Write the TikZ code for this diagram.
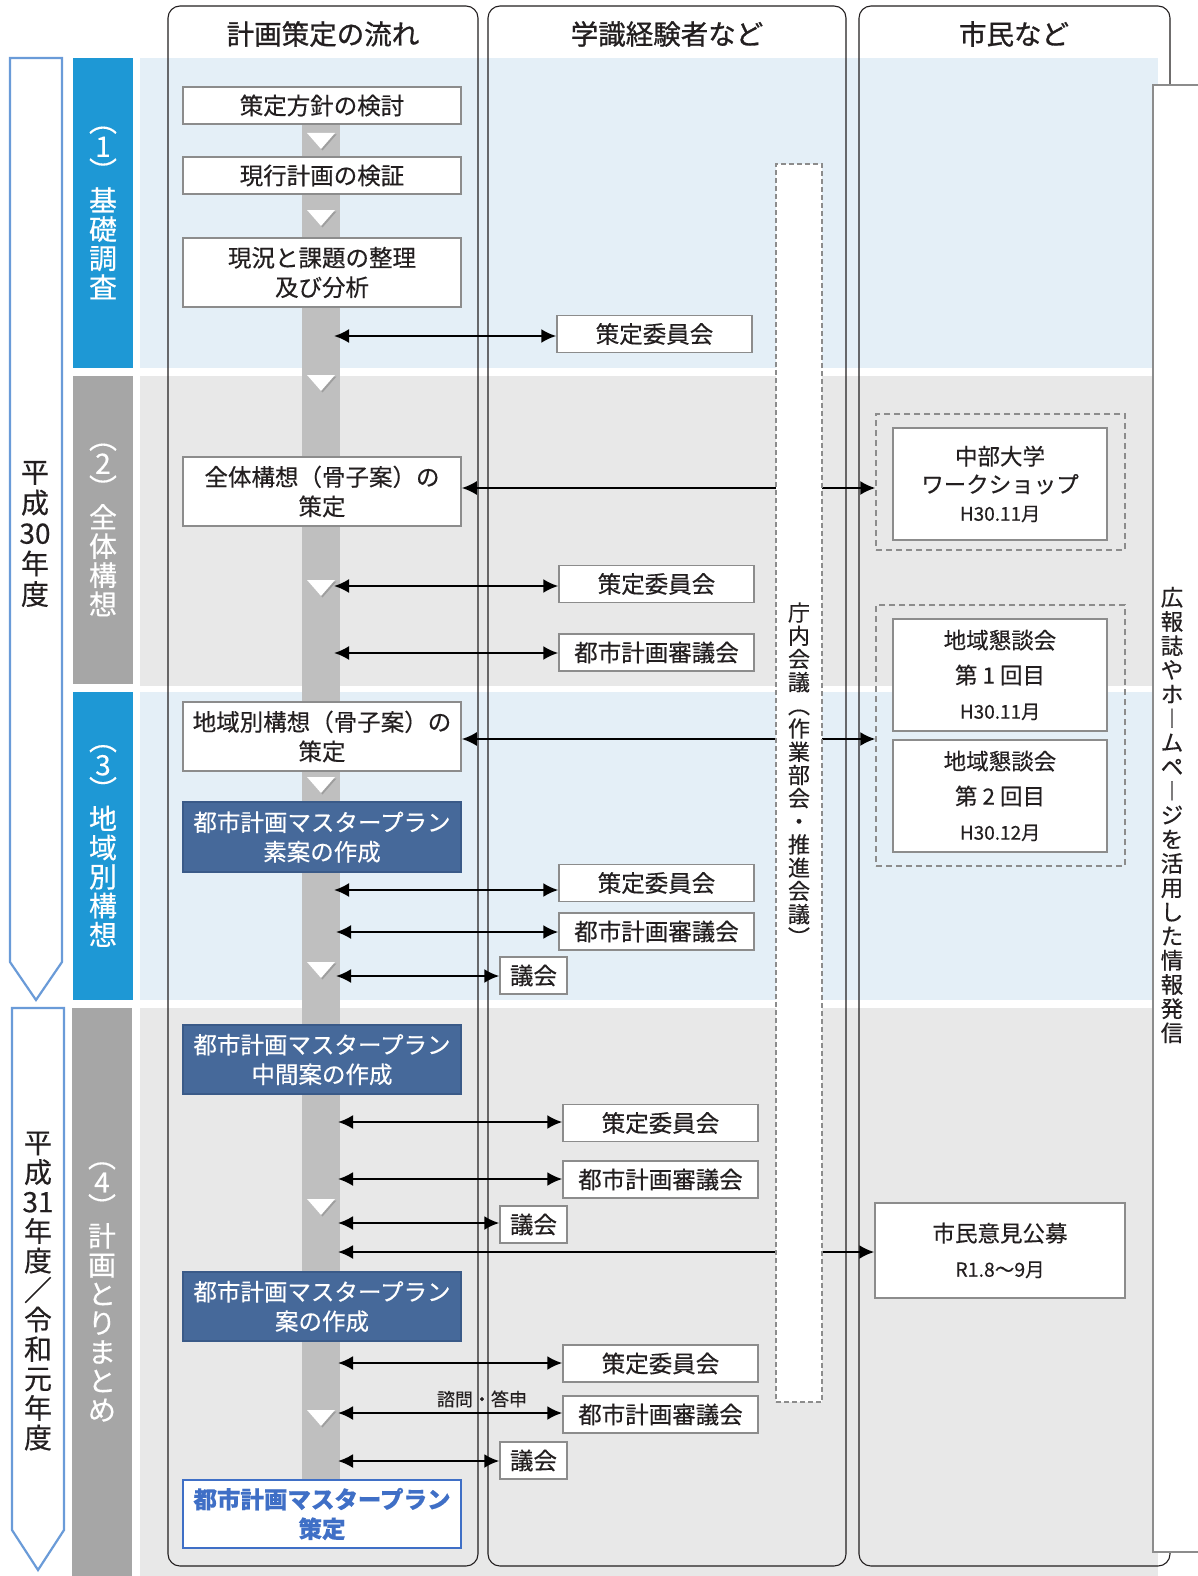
\documentclass[tikz,border=0pt]{standalone}
\usepackage{fontspec}
\setmainfont{Noto Sans CJK JP}[FakeBold=0.35]
\newfontfamily\hdfont{Noto Sans CJK JP}[FakeBold=1]
\usetikzlibrary{arrows.meta}
\definecolor{bandblue}{HTML}{E4EFF7}
\definecolor{bandgray}{HTML}{E8E8E8}
\definecolor{barblue}{HTML}{1E98D5}
\definecolor{bargray}{HTML}{A6A6A6}
\definecolor{flowgray}{HTML}{BFBFBF}
\definecolor{boxborder}{HTML}{8C8C8C}
\definecolor{darkbox}{HTML}{46699A}
\definecolor{darkboxb}{HTML}{3A5A88}
\definecolor{yearblue}{HTML}{6A9BD8}
\definecolor{finalblue}{HTML}{3F6FC6}
\definecolor{textc}{HTML}{231F20}
\newcommand\dtri[2]{%
  \fill[black!38] (#1-14+1.5,#2+1.5) -- (#1+14+1.5,#2+1.5) -- (#1+1.5,#2+16+1.5) -- cycle;
  \fill[white] (#1-14,#2) -- (#1+14,#2) -- (#1,#2+16) -- cycle;}
\begin{document}
\begin{tikzpicture}[x=1pt,y=-1pt,
  flowbox/.style={draw=boxborder,line width=1.5pt,fill=white,minimum width=278,minimum height=37,inner sep=0pt,align=center,text=textc,font=\fontsize{23.5}{29.5}\selectfont},
  darkflow/.style={flowbox,fill=darkbox,draw=darkboxb,text=white},
  finalbox/.style={flowbox,draw=finalblue,text=finalblue,font=\bfseries\fontsize{23.5}{29.5}\selectfont},
  sidebox/.style={draw=boxborder,line width=1.5pt,fill=white,minimum width=195,minimum height=37,inner sep=0pt,align=center,text=textc,font=\fontsize{23.5}{29}\selectfont},
  gikaibox/.style={sidebox,minimum width=67},
  citbox/.style={sidebox,minimum width=214,minimum height=112,font=\fontsize{22.5}{28}\selectfont},
  dgroup/.style={draw=boxborder,dash pattern=on 6pt off 4pt,line width=1.4pt,minimum width=249,inner sep=0pt},
  phasebar/.style={minimum width=60,inner sep=0pt,text=white,align=center,font=\fontsize{28}{29}\selectfont},
  yeartext/.style={inner sep=0pt,align=center,text=textc,font=\fontsize{28}{30.5}\selectfont},
  header/.style={inner sep=0pt,text=textc,font=\hdfont\fontsize{27.5}{30}\selectfont},
  biarrow/.style={line width=2.2pt,{Latex[length=15pt,width=14pt]}-{Latex[length=15pt,width=14pt]}},
  colline/.style={line width=1.1pt,draw=textc,rounded corners=12pt}
]
\useasboundingbox (0,0) rectangle (1198,1576);
\fill[white] (0,0) rectangle (1198,1576);
% bands
\fill[bandblue] (140,58) rectangle (1158,368);
\fill[bandgray] (140,376) rectangle (1158,686);
\fill[bandblue] (140,692) rectangle (1158,1000);
\fill[bandgray] (140,1008) rectangle (1158,1576);
% columns
\draw[colline] (168,6) rectangle (478,1566);
\draw[colline] (488,6) rectangle (846,1566);
\draw[colline] (859,6) rectangle (1170,1566);
\node[header] (h1) at (323,34) {計画策定の流れ};
\node[header] (h2) at (667,34) {学識経験者など};
\node[header] (h3) at (1014,34) {市民など};
% phase bars
\node[phasebar,fill=barblue,minimum height=310] (p1) at (103,213) {︵\\[-4pt]1\\[-4pt]︶\\基\\礎\\調\\査};
\node[phasebar,fill=bargray,minimum height=308] (p2) at (103,530) {︵\\[-4pt]2\\[-4pt]︶\\全\\体\\構\\想};
\node[phasebar,fill=barblue,minimum height=308] (p3) at (103,846) {︵\\[-4pt]3\\[-4pt]︶\\地\\域\\別\\構\\想};
\node[phasebar,fill=bargray,minimum height=568] (p4) at (102,1292) {︵\\[-4pt]4\\[-4pt]︶\\計\\画\\と\\り\\ま\\と\\め};
% year arrows
\draw[yearblue,line width=2.2pt,fill=white] (10,58) -- (62,58) -- (62,962) -- (36,1000) -- (10,962) -- cycle;
\draw[yearblue,line width=2.2pt,fill=white] (12,1008) -- (64,1008) -- (64,1530) -- (38,1570) -- (12,1530) -- cycle;
\node[yeartext] (y1) at (35,534) {平\\成\\30\\年\\度};
\node[yeartext,font=\fontsize{28}{29.5}\selectfont] (y2) at (38,1291) {平\\成\\31\\年\\度\\／\\令\\和\\元\\年\\度};
% flow bar
\fill[flowgray] (302,105) rectangle (340,1480);
% flow boxes
\node[flowbox] (f1) at (322,105.5) {策定方針の検討};
\node[flowbox] (f2) at (322,175.5) {現行計画の検証};
\node[flowbox,minimum height=69] (f3) at (322,272.5) {現況と課題の整理\\及び分析};
\node[flowbox,minimum height=69] (f4) at (322,491.5) {全体構想（骨子案）の\\策定};
\node[flowbox,minimum height=69] (f5) at (322,736.5) {地域別構想（骨子案）の\\策定};
\node[darkflow,minimum height=70] (f6) at (322,837) {都市計画マスタープラン\\素案の作成};
\node[darkflow,minimum height=69] (f7) at (322,1059.5) {都市計画マスタープラン\\中間案の作成};
\node[darkflow,minimum height=69] (f8) at (322,1306.5) {都市計画マスタープラン\\案の作成};
\node[finalbox,minimum height=68] (f9) at (322,1514) {都市計画マスタープラン\\策定};
% triangles
\dtri{321}{133}
\dtri{321}{210}
\dtri{321}{375}
\dtri{321}{580}
\dtri{321}{777}
\dtri{321}{962}
\dtri{321}{1199}
\dtri{321}{1410}
% column 2 boxes
\node[sidebox] (s1) at (654.5,334) {策定委員会};
\node[sidebox] (s2) at (656.5,584) {策定委員会};
\node[sidebox] (s3) at (656.5,652.5) {都市計画審議会};
\node[sidebox] (s4) at (656.5,883) {策定委員会};
\node[sidebox] (s5) at (656.5,931.5) {都市計画審議会};
\node[gikaibox] (k1) at (533.5,975.5) {議会};
\node[sidebox] (s6) at (660.5,1123) {策定委員会};
\node[sidebox] (s7) at (660.5,1179.5) {都市計画審議会};
\node[gikaibox] (k2) at (533.5,1224.5) {議会};
\node[sidebox] (s8) at (660.5,1363.5) {策定委員会};
\node[sidebox] (s9) at (660.5,1414.5) {都市計画審議会};
\node[gikaibox] (k3) at (533.5,1460.5) {議会};
% column 3 boxes
\node[dgroup,minimum height=136] (g1) at (1000.5,482) {};
\node[dgroup,minimum height=261] (g2) at (1000.5,735.5) {};
\node[citbox] (c1) at (1000,484) {中部大学\\ワークショップ\\{\fontsize{19}{28}\selectfont H30.11月}};
\node[citbox,font=\fontsize{22.5}{35}\selectfont] (c2) at (1000,675) {地域懇談会\\第 1 回目\\{\fontsize{19}{35}\selectfont H30.11月}};
\node[citbox,font=\fontsize{22.5}{35}\selectfont] (c3) at (1000,796) {地域懇談会\\第 2 回目\\{\fontsize{19}{35}\selectfont H30.12月}};
\node[citbox,minimum width=250,minimum height=95,font=\fontsize{22.5}{35}\selectfont] (c4) at (1000,1250.5) {市民意見公募\\{\fontsize{19.5}{35}\selectfont R1.8～9月}};
% arrows
\coordinate (a1) at (334,336);
\coordinate (a3) at (334,586);
\coordinate (a4) at (334,653);
\coordinate (a6) at (334,890);
\coordinate (a7) at (336,932);
\coordinate (a8) at (336,976);
\coordinate (a9) at (338,1122);
\coordinate (a10) at (338,1179);
\coordinate (a11) at (338,1223);
\coordinate (a12) at (338,1252);
\coordinate (a13) at (338,1363);
\coordinate (a14) at (338,1413);
\coordinate (a15) at (338,1461);
\coordinate (r2) at (0,488);
\coordinate (r5) at (0,739);
\draw[biarrow] (a1) -- (a1 -| s1.west);
\draw[biarrow] (a3) -- (a3 -| s2.west);
\draw[biarrow] (a4) -- (a4 -| s3.west);
\draw[biarrow] (a6) -- (a6 -| s4.west);
\draw[biarrow] (a7) -- (a7 -| s5.west);
\draw[biarrow] (a8) -- (a8 -| k1.west);
\draw[biarrow] (a9) -- (a9 -| s6.west);
\draw[biarrow] (a10) -- (a10 -| s7.west);
\draw[biarrow] (a11) -- (a11 -| k2.west);
\draw[biarrow] (a13) -- (a13 -| s8.west);
\draw[biarrow] (a14) -- (a14 -| s9.west);
\draw[biarrow] (a15) -- (a15 -| k3.west);
\draw[biarrow] (f4.east |- r2) -- (g1.west |- r2);
\draw[biarrow] (f5.east |- r5) -- (g2.west |- r5);
\draw[biarrow] (a12) -- (a12 -| c4.west);
\node[inner sep=0pt,text=textc,font=\fontsize{18}{20}\selectfont] (lab) at (482,1399) {諮問・答申};
% internal meeting box
\node[draw=boxborder,dash pattern=on 5pt off 3pt,line width=1.4pt,fill=white,minimum width=46,minimum height=1238,inner sep=0pt] (tc) at (799,783) {};
\node[inner sep=0pt,align=center,text=textc,font=\fontsize{22}{23.2}\selectfont] (tct) at (799,774) {庁\\内\\会\\議\\︵\\作\\業\\部\\会\\・\\推\\進\\会\\議\\︶};
% right PR box
\fill[white] (1153,85) rectangle (1220,1552);
\draw[boxborder,line width=1.6pt] (1220,85) -- (1153,85) -- (1153,1552) -- (1220,1552);
\node[inner sep=0pt,align=center,text=textc,font=\fontsize{22.5}{24.2}\selectfont] (pr) at (1172,815) {広\\報\\誌\\や\\ホ\\︱\\ム\\ペ\\︱\\ジ\\を\\活\\用\\し\\た\\情\\報\\発\\信};
\end{tikzpicture}
\end{document}
